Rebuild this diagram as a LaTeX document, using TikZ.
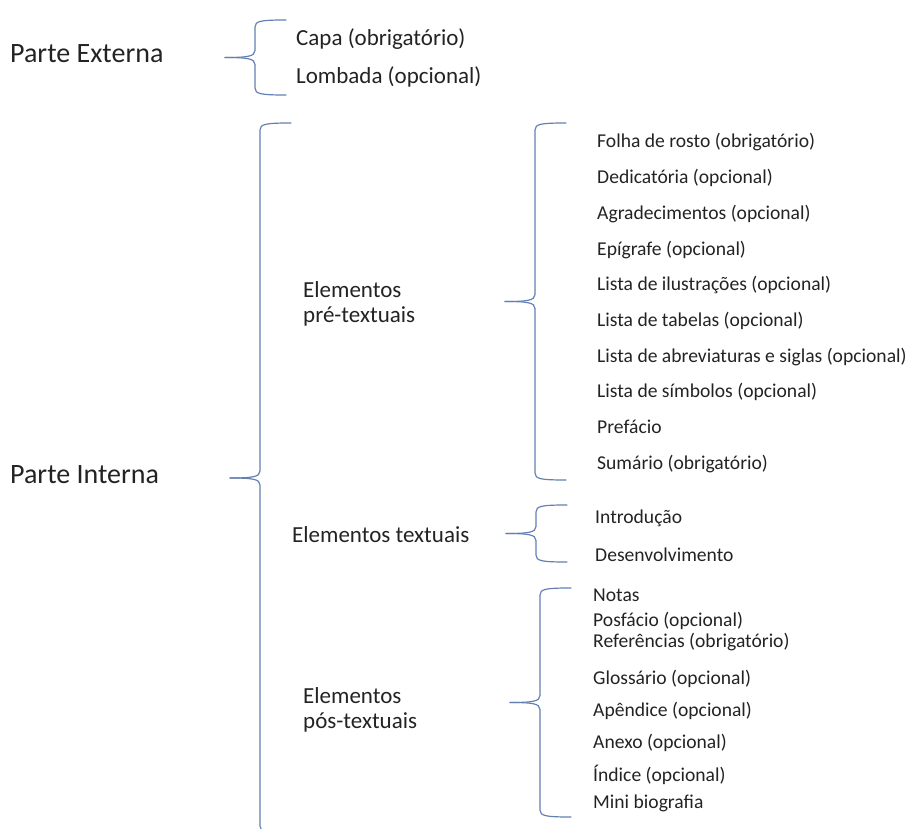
\documentclass[tikz,border=0pt]{standalone}
\usepackage{fontspec}
\setmainfont{Carlito}
\usetikzlibrary{positioning}
\definecolor{bracecol}{RGB}{100,128,178}
\definecolor{txtdark}{RGB}{35,35,35}
\tikzset{
  partlabel/.style={anchor=base west, inner sep=0pt, text=txtdark,
    font=\fontsize{28}{32}\selectfont},
  grouplabel/.style={anchor=base west, inner sep=0pt, text=txtdark,
    align=left, font=\fontsize{23}{25}\selectfont},
  itemlabel/.style={anchor=base west, inner sep=0pt, text=txtdark,
    font=\fontsize{19.6}{23}\selectfont},
  braceline/.style={draw=bracecol, line width=1.2pt, line cap=round, line join=round}
}
% Word-style brace: x of the stem, top, bottom, name
\newcommand{\wordbrace}[4]{%
  \pgfmathsetmacro{\bmid}{(#2+#3)/2}
  \coordinate (#4-top) at (#1+31,#2);
  \coordinate (#4-tip) at (#1-30,\bmid);
  \coordinate (#4-bot) at (#1+31,#3);
  \draw[braceline] (#4-top) .. controls (#1+6,#2) and (#1,#2+1) .. (#1,#2+7)
    -- (#1,\bmid-7) .. controls (#1,\bmid-1) and (#1-8,\bmid) .. (#4-tip);
  \draw[braceline] (#4-tip) .. controls (#1-8,\bmid) and (#1,\bmid+1) .. (#1,\bmid+7)
    -- (#1,#3-7) .. controls (#1,#3-1) and (#1+6,#3) .. (#4-bot);
}
\begin{document}
\begin{tikzpicture}[x=1pt, y=-1pt]
  \useasboundingbox (0,0) rectangle (914,829);
  \clip (0,0) rectangle (914,829);

  % Parte externa
  \node[partlabel] (partext) at (10,63) {Parte Externa};
  \wordbrace{255}{20}{95}{bext}
  \node[grouplabel] (capa) at (296,46) {Capa (obrigatório)};
  \node[grouplabel] (lombada) at (296,84) {Lombada (opcional)};

  % Parte interna
  \node[partlabel] (partint) at (10,483) {Parte Interna};
  \wordbrace{260}{123}{833}{bint}

  % Elementos pre-textuais
  \node[grouplabel] (grppre) at (303,323) {Elementos\\pré-textuais};
  \wordbrace{535}{123}{480}{bpre}
  \foreach \lbl [count=\i] in {Folha de rosto (obrigatório), Dedicatória (opcional),
      Agradecimentos (opcional), Epígrafe (opcional), Lista de ilustrações (opcional),
      Lista de tabelas (opcional), Lista de abreviaturas e siglas (opcional),
      Lista de símbolos (opcional), Prefácio, Sumário (obrigatório)}
    \node[itemlabel] (pre\i) at (597,{148+35.7*(\i-1)}) {\lbl};

  % Elementos textuais
  \node[grouplabel] (grptext) at (292,542) {Elementos textuais};
  \wordbrace{536}{505}{562}{btext}
  \node[itemlabel] (txt1) at (595,523) {Introdução};
  \node[itemlabel] (txt2) at (595,561) {Desenvolvimento};

  % Elementos pos-textuais
  \node[grouplabel] (grppos) at (303,728) {Elementos\\pós-textuais};
  \wordbrace{540}{588}{817}{bpos}
  \foreach \yy/\lbl [count=\i] in {601/Notas, 626/Posfácio (opcional),
      647/Referências (obrigatório), 684/Glossário (opcional), 716/Apêndice (opcional),
      748/Anexo (opcional), 781/Índice (opcional), 808/Mini biografia}
    \node[itemlabel] (pos\i) at (593,\yy) {\lbl};
\end{tikzpicture}
\end{document}
